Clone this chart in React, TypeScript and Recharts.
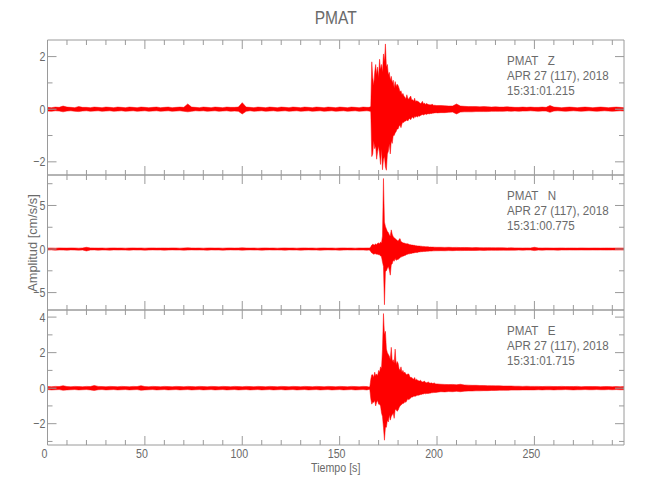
import React from 'react';
import { ComposedChart, Area, XAxis, YAxis } from 'recharts';

const W = 650;
const H = 500;
const PLOT_L = 47.5;
const PLOT_R = 624;
const X_DOMAIN: [number, number] = [0, 296];
const X_TICKS = [0, 10, 20, 30, 40, 50, 60, 70, 80, 90, 100, 110, 120, 130, 140, 150, 160, 170, 180, 190, 200, 210, 220, 230, 240, 250, 260, 270, 280, 290];
const X_MAJOR = [0, 50, 100, 150, 200, 250];

const TITLE = 'PMAT';
const X_TITLE = 'Tiempo [s]';
const Y_TITLE = 'Amplitud [cm/s/s]';
const STATION = 'PMAT';
const COMPONENTS = ['Z', 'N', 'E'];
const DATE_LINE = 'APR 27 (117), 2018';
const START_TIMES = ['15:31:01.215', '15:31:00.775', '15:31:01.715'];

// sampling segments (start time, step) of the hand-read envelopes
const SEG_A = { start: 0, step: 2 };
const SEG_B = { start: 165, step: 0.5 };
const SEG_C = { start: 202, step: 2 };

// ---------- Z component (upper / lower envelope) ----------
const Z_HI_A = [0.07, 0.06, 0.08, 0.07, 0.12, 0.08, 0.07, 0.06, 0.1, 0.07, 0.07, 0.06, 0.08, 0.07, 0.06, 0.08, 0.07, 0.06, 0.08, 0.07, 0.06, 0.08, 0.07, 0.06, 0.08, 0.07, 0.06, 0.07, 0.08, 0.06, 0.07, 0.08, 0.06, 0.07, 0.08, 0.07, 0.2, 0.08, 0.07, 0.06, 0.08, 0.07, 0.06, 0.08, 0.07, 0.06, 0.08, 0.07, 0.07, 0.08, 0.25, 0.08, 0.07, 0.06, 0.08, 0.07, 0.06, 0.08, 0.07, 0.06, 0.08, 0.07, 0.06, 0.08, 0.07, 0.06, 0.08, 0.07, 0.06, 0.08, 0.07, 0.06, 0.08, 0.07, 0.06, 0.08, 0.07, 0.06, 0.08, 0.07, 0.06, 0.08, 0.07];
const Z_LO_A = [-0.07, -0.08, -0.06, -0.07, -0.1, -0.07, -0.06, -0.08, -0.09, -0.07, -0.06, -0.08, -0.07, -0.06, -0.08, -0.07, -0.06, -0.08, -0.07, -0.06, -0.08, -0.07, -0.06, -0.08, -0.07, -0.06, -0.08, -0.07, -0.06, -0.08, -0.07, -0.06, -0.08, -0.07, -0.06, -0.08, -0.1, -0.08, -0.06, -0.07, -0.06, -0.08, -0.07, -0.06, -0.08, -0.07, -0.06, -0.08, -0.07, -0.08, -0.18, -0.08, -0.06, -0.08, -0.07, -0.06, -0.08, -0.07, -0.06, -0.08, -0.07, -0.06, -0.08, -0.07, -0.06, -0.08, -0.07, -0.06, -0.08, -0.07, -0.06, -0.08, -0.07, -0.06, -0.08, -0.07, -0.06, -0.08, -0.07, -0.06, -0.08, -0.07, -0.06];
const Z_HI_B = [0.07, 0.08, 0.1, 1.8, 1.2, 0.9, 1.4, 1.7, 1.3, 1.6, 1.2, 1.9, 1.5, 1.7, 1.4, 2.1, 1.8, 2.48, 1.6, 1.7, 1.3, 1.4, 1.1, 1.25, 1.0, 1.1, 0.8, 1.05, 0.85, 0.95, 0.9, 0.8, 0.65, 0.7, 0.55, 0.6, 0.5, 0.45, 0.4, 0.55, 0.42, 0.38, 0.45, 0.5, 0.35, 0.36, 0.3, 0.42, 0.28, 0.32, 0.3, 0.28, 0.25, 0.22, 0.24, 0.3, 0.2, 0.24, 0.18, 0.22, 0.2, 0.18, 0.17, 0.17, 0.16, 0.2, 0.15, 0.15, 0.15, 0.14, 0.14];
const Z_LO_B = [-0.07, -0.08, -0.1, -1.8, -1.7, -1.2, -1.5, -1.4, -1.9, -1.6, -1.4, -1.7, -2.1, -1.5, -2.3, -1.9, -1.8, -2.2, -2.32, -1.7, -1.6, -1.3, -1.7, -1.2, -1.3, -1.0, -1.0, -0.9, -0.85, -0.75, -0.75, -0.65, -0.6, -0.7, -0.55, -0.5, -0.5, -0.45, -0.45, -0.4, -0.45, -0.38, -0.35, -0.4, -0.32, -0.3, -0.35, -0.28, -0.3, -0.27, -0.3, -0.25, -0.27, -0.24, -0.22, -0.2, -0.22, -0.2, -0.18, -0.2, -0.18, -0.17, -0.18, -0.16, -0.17, -0.15, -0.15, -0.14, -0.14, -0.13, -0.14];
const Z_HI_C = [0.14, 0.13, 0.12, 0.12, 0.2, 0.12, 0.11, 0.1, 0.1, 0.1, 0.09, 0.1, 0.09, 0.08, 0.09, 0.08, 0.08, 0.09, 0.08, 0.07, 0.07, 0.08, 0.07, 0.08, 0.07, 0.07, 0.08, 0.07, 0.14, 0.08, 0.07, 0.06, 0.07, 0.08, 0.07, 0.06, 0.07, 0.08, 0.07, 0.06, 0.07, 0.08, 0.07, 0.06, 0.07, 0.08, 0.07, 0.06];
const Z_LO_C = [-0.13, -0.13, -0.12, -0.11, -0.18, -0.11, -0.1, -0.1, -0.1, -0.09, -0.09, -0.09, -0.09, -0.08, -0.08, -0.08, -0.08, -0.07, -0.08, -0.07, -0.08, -0.07, -0.07, -0.06, -0.07, -0.08, -0.07, -0.07, -0.12, -0.07, -0.06, -0.07, -0.08, -0.07, -0.06, -0.07, -0.08, -0.07, -0.06, -0.07, -0.08, -0.07, -0.06, -0.07, -0.08, -0.07, -0.06, -0.07];

// ---------- N component ----------
const N_HI_A = [0.11, 0.12, 0.1, 0.13, 0.12, 0.11, 0.13, 0.12, 0.1, 0.12, 0.2, 0.13, 0.12, 0.11, 0.12, 0.1, 0.12, 0.13, 0.11, 0.12, 0.1, 0.12, 0.13, 0.11, 0.12, 0.1, 0.12, 0.13, 0.11, 0.12, 0.12, 0.11, 0.13, 0.12, 0.1, 0.12, 0.14, 0.12, 0.11, 0.12, 0.1, 0.12, 0.13, 0.11, 0.12, 0.1, 0.12, 0.13, 0.11, 0.12, 0.14, 0.12, 0.11, 0.12, 0.1, 0.12, 0.13, 0.11, 0.12, 0.1, 0.12, 0.13, 0.11, 0.12, 0.1, 0.12, 0.13, 0.11, 0.12, 0.1, 0.12, 0.13, 0.11, 0.12, 0.1, 0.12, 0.13, 0.11, 0.12, 0.1, 0.12, 0.11, 0.12];
const N_LO_A = [-0.12, -0.1, -0.13, -0.11, -0.12, -0.13, -0.1, -0.12, -0.13, -0.11, -0.22, -0.12, -0.1, -0.13, -0.11, -0.12, -0.13, -0.1, -0.12, -0.11, -0.12, -0.13, -0.1, -0.12, -0.11, -0.13, -0.12, -0.1, -0.12, -0.11, -0.13, -0.12, -0.1, -0.12, -0.11, -0.13, -0.12, -0.1, -0.12, -0.11, -0.12, -0.13, -0.1, -0.12, -0.11, -0.13, -0.12, -0.1, -0.12, -0.11, -0.13, -0.12, -0.1, -0.12, -0.11, -0.13, -0.12, -0.1, -0.12, -0.11, -0.12, -0.13, -0.1, -0.12, -0.11, -0.13, -0.12, -0.1, -0.12, -0.11, -0.13, -0.12, -0.1, -0.12, -0.11, -0.13, -0.12, -0.1, -0.12, -0.11, -0.12, -0.11, -0.13];
const N_HI_B = [0.12, 0.12, 0.25, 0.45, 0.55, 0.5, 0.45, 0.6, 0.5, 0.65, 0.7, 0.6, 0.8, 0.7, 1.5, 8.1, 3.1, 2.6, 2.3, 2.0, 1.9, 1.6, 1.5, 2.2, 1.7, 1.4, 1.3, 1.2, 1.1, 1.0, 0.9, 1.1, 1.2, 0.85, 0.8, 0.7, 0.7, 0.65, 0.6, 0.6, 0.6, 0.55, 0.5, 0.5, 0.45, 0.45, 0.42, 0.42, 0.38, 0.38, 0.35, 0.35, 0.34, 0.33, 0.32, 0.3, 0.3, 0.28, 0.27, 0.27, 0.27, 0.25, 0.22, 0.24, 0.22, 0.22, 0.22, 0.21, 0.21, 0.2, 0.2];
const N_LO_B = [-0.12, -0.13, -0.3, -0.45, -0.5, -0.6, -0.55, -0.55, -0.6, -0.6, -0.65, -0.65, -0.8, -0.9, -1.5, -2.0, -6.4, -2.6, -2.5, -2.2, -2.0, -2.4, -3.0, -1.8, -1.7, -1.3, -1.4, -1.1, -1.3, -1.2, -1.2, -1.1, -1.0, -0.9, -0.9, -0.8, -0.8, -0.7, -0.7, -0.6, -0.6, -0.55, -0.55, -0.5, -0.5, -0.45, -0.45, -0.42, -0.4, -0.4, -0.4, -0.35, -0.33, -0.32, -0.3, -0.3, -0.28, -0.28, -0.28, -0.26, -0.25, -0.25, -0.24, -0.23, -0.24, -0.22, -0.21, -0.21, -0.2, -0.2, -0.2];
const N_HI_C = [0.2, 0.19, 0.2, 0.18, 0.19, 0.17, 0.18, 0.17, 0.16, 0.17, 0.16, 0.15, 0.16, 0.15, 0.14, 0.15, 0.14, 0.13, 0.14, 0.13, 0.13, 0.12, 0.13, 0.12, 0.2, 0.13, 0.12, 0.13, 0.12, 0.11, 0.12, 0.13, 0.11, 0.12, 0.12, 0.11, 0.13, 0.12, 0.11, 0.12, 0.12, 0.11, 0.12, 0.12, 0.11, 0.12, 0.12, 0.11];
const N_LO_C = [-0.19, -0.2, -0.18, -0.19, -0.17, -0.18, -0.17, -0.16, -0.17, -0.16, -0.15, -0.16, -0.15, -0.14, -0.15, -0.14, -0.13, -0.14, -0.13, -0.13, -0.12, -0.13, -0.12, -0.12, -0.18, -0.12, -0.13, -0.11, -0.12, -0.12, -0.13, -0.11, -0.12, -0.11, -0.12, -0.12, -0.11, -0.12, -0.12, -0.11, -0.12, -0.11, -0.12, -0.12, -0.11, -0.12, -0.11, -0.12];

// ---------- E component ----------
const E_HI_A = [0.09, 0.08, 0.1, 0.09, 0.14, 0.09, 0.08, 0.1, 0.09, 0.08, 0.1, 0.09, 0.15, 0.1, 0.09, 0.08, 0.1, 0.09, 0.08, 0.1, 0.09, 0.08, 0.1, 0.09, 0.14, 0.09, 0.08, 0.1, 0.09, 0.08, 0.1, 0.09, 0.08, 0.1, 0.09, 0.08, 0.1, 0.09, 0.08, 0.1, 0.09, 0.08, 0.1, 0.09, 0.08, 0.1, 0.09, 0.08, 0.1, 0.09, 0.08, 0.1, 0.09, 0.08, 0.1, 0.09, 0.08, 0.1, 0.09, 0.08, 0.1, 0.09, 0.08, 0.1, 0.09, 0.08, 0.1, 0.09, 0.08, 0.1, 0.09, 0.08, 0.1, 0.09, 0.08, 0.1, 0.09, 0.08, 0.1, 0.09, 0.08, 0.1, 0.09];
const E_LO_A = [-0.08, -0.1, -0.09, -0.08, -0.12, -0.1, -0.09, -0.08, -0.1, -0.09, -0.08, -0.1, -0.13, -0.09, -0.08, -0.1, -0.09, -0.08, -0.1, -0.09, -0.08, -0.1, -0.09, -0.08, -0.12, -0.1, -0.09, -0.08, -0.1, -0.09, -0.08, -0.1, -0.09, -0.08, -0.1, -0.09, -0.08, -0.1, -0.09, -0.08, -0.1, -0.09, -0.08, -0.1, -0.09, -0.08, -0.1, -0.09, -0.08, -0.1, -0.09, -0.08, -0.1, -0.09, -0.08, -0.1, -0.09, -0.08, -0.1, -0.09, -0.08, -0.1, -0.09, -0.08, -0.1, -0.09, -0.08, -0.1, -0.09, -0.08, -0.1, -0.09, -0.08, -0.1, -0.09, -0.08, -0.1, -0.09, -0.08, -0.1, -0.09, -0.08, -0.1];
const E_HI_B = [0.07, 0.08, 0.5, 0.75, 0.75, 0.6, 0.9, 0.7, 0.8, 0.7, 1.0, 0.9, 1.2, 1.1, 2.2, 4.2, 3.0, 3.2, 2.2, 2.0, 1.9, 1.8, 1.6, 2.3, 1.5, 1.6, 1.4, 2.2, 1.3, 1.5, 1.4, 1.1, 1.0, 1.2, 0.9, 1.0, 0.85, 0.9, 0.8, 0.75, 0.8, 0.8, 0.65, 0.6, 0.6, 0.55, 0.5, 0.6, 0.45, 0.5, 0.45, 0.42, 0.4, 0.45, 0.38, 0.35, 0.36, 0.4, 0.33, 0.3, 0.32, 0.35, 0.3, 0.28, 0.3, 0.27, 0.26, 0.3, 0.25, 0.24, 0.24];
const E_LO_B = [-0.07, -0.08, -0.6, -0.9, -0.8, -0.8, -0.7, -1.0, -0.8, -0.7, -0.9, -0.9, -1.0, -1.4, -1.6, -2.2, -2.93, -2.2, -2.2, -1.8, -1.9, -1.5, -1.8, -1.6, -1.5, -1.4, -1.7, -1.2, -1.2, -1.3, -1.25, -1.1, -1.0, -0.95, -0.9, -0.85, -0.85, -0.75, -0.8, -0.7, -0.6, -0.65, -0.6, -0.55, -0.5, -0.5, -0.45, -0.45, -0.45, -0.42, -0.4, -0.4, -0.38, -0.36, -0.36, -0.33, -0.33, -0.3, -0.32, -0.3, -0.3, -0.3, -0.28, -0.28, -0.26, -0.26, -0.25, -0.25, -0.24, -0.24, -0.23];
const E_HI_C = [0.22, 0.21, 0.2, 0.21, 0.19, 0.22, 0.18, 0.17, 0.16, 0.16, 0.15, 0.15, 0.14, 0.14, 0.13, 0.13, 0.12, 0.12, 0.12, 0.11, 0.11, 0.1, 0.11, 0.1, 0.1, 0.1, 0.09, 0.1, 0.1, 0.09, 0.09, 0.1, 0.09, 0.09, 0.09, 0.1, 0.08, 0.09, 0.09, 0.09, 0.09, 0.08, 0.09, 0.09, 0.08, 0.09, 0.08, 0.09];
const E_LO_C = [-0.2, -0.21, -0.19, -0.2, -0.18, -0.2, -0.17, -0.16, -0.16, -0.15, -0.15, -0.14, -0.14, -0.13, -0.13, -0.12, -0.12, -0.12, -0.11, -0.11, -0.11, -0.1, -0.1, -0.1, -0.1, -0.09, -0.1, -0.09, -0.09, -0.1, -0.09, -0.09, -0.08, -0.09, -0.1, -0.09, -0.09, -0.08, -0.09, -0.09, -0.08, -0.09, -0.09, -0.08, -0.09, -0.08, -0.09, -0.09];

function buildTrace(hi: number[][], lo: number[][]) {
  const segs = [SEG_A, SEG_B, SEG_C];
  const out: { t: number; r: [number, number] }[] = [];
  segs.forEach((s, k) => {
    hi[k].forEach((h, i) => out.push({ t: s.start + i * s.step, r: [lo[k][i], h] }));
  });
  return out;
}

const PANELS = [
  { top: 40, bottom: 175, domain: [-2.5, 2.63], ticks: [-2, -1, 0, 1, 2], major: [-2, 0, 2], data: buildTrace([Z_HI_A, Z_HI_B, Z_HI_C], [Z_LO_A, Z_LO_B, Z_LO_C]) },
  { top: 175, bottom: 310, domain: [-7.0, 8.5], ticks: [-5, -2.5, 0, 2.5, 5, 7.5], major: [-5, 0, 5], data: buildTrace([N_HI_A, N_HI_B, N_HI_C], [N_LO_A, N_LO_B, N_LO_C]) },
  { top: 310, bottom: 445, domain: [-3.2, 4.4], ticks: [-3, -2, -1, 0, 1, 2, 3, 4], major: [-2, 0, 2, 4], data: buildTrace([E_HI_A, E_HI_B, E_HI_C], [E_LO_A, E_LO_B, E_LO_C]) },
];

const AXIS = '#9a9a9a';
const TEXT = '#6a6a6a';
const FONT = "'Liberation Sans', Arial, sans-serif";
const SX = 0.82;
const MAJ = 9;
const MIN = 5;

const fmt = (v: number) => (v < 0 ? '\u2212' + Math.abs(v) : String(v));

function NText(props: any) {
  const { x, y, size, anchor, rotate, sx, children } = props;
  const tr = `translate(${x},${y})` + (rotate ? ` rotate(${rotate})` : '') + ` scale(${sx ?? SX},1)`;
  return (
    <text transform={tr} textAnchor={anchor || 'start'} fontSize={size} fill={TEXT} fontFamily={FONT} style={{ whiteSpace: 'pre' }}>
      {children}
    </text>
  );
}

function XTick(props: any) {
  const { x, y, payload, side, showLabel } = props;
  const major = X_MAJOR.includes(payload.value);
  const len = major ? MAJ : MIN;
  const dir = side === 'top' ? 1 : -1;
  return (
    <g>
      <line x1={x} y1={y} x2={x} y2={y + dir * len} stroke={AXIS} strokeWidth={1} />
      {showLabel && major ? (
        <NText x={x - 3} y={y + 13} size={13} anchor="middle">
          {String(payload.value)}
        </NText>
      ) : null}
    </g>
  );
}

function YTick(props: any) {
  const { x, y, payload, side, majors } = props;
  const major = majors.includes(payload.value);
  const len = major ? MAJ : MIN;
  const dir = side === 'left' ? 1 : -1;
  return (
    <g>
      <line x1={x} y1={y} x2={x + dir * len} y2={y} stroke={AXIS} strokeWidth={1} />
      {side === 'left' && major ? (
        <NText x={x - 2} y={y + 4.5} size={13} anchor="end">
          {fmt(payload.value)}
        </NText>
      ) : null}
    </g>
  );
}

export default function App() {
  return (
    <div style={{ position: 'absolute', left: 0, top: 0, width: W, height: H, background: '#fff' }}>
      {PANELS.map((p, idx) => (
        <div key={idx} style={{ position: 'absolute', left: 0, top: 0 }}>
          <ComposedChart
            width={W}
            height={H}
            data={p.data}
            margin={{ top: p.top - 1, bottom: H - p.bottom - 1, left: PLOT_L - 1, right: W - PLOT_R - 1 }}
          >
            <XAxis
              xAxisId="b"
              dataKey="t"
              type="number"
              domain={X_DOMAIN}
              allowDataOverflow
              ticks={X_TICKS}
              interval={0}
              height={1}
              tickSize={0}
              tickMargin={0}
              tickLine={false}
              axisLine={{ stroke: AXIS }}
              tick={(tp: any) => <XTick {...tp} side="bottom" showLabel={idx === 2} />}
            />
            <XAxis
              xAxisId="t"
              orientation="top"
              dataKey="t"
              type="number"
              domain={X_DOMAIN}
              allowDataOverflow
              ticks={X_TICKS}
              interval={0}
              height={1}
              tickSize={0}
              tickMargin={0}
              tickLine={false}
              axisLine={{ stroke: AXIS }}
              tick={(tp: any) => <XTick {...tp} side="top" showLabel={false} />}
            />
            <YAxis
              yAxisId="l"
              type="number"
              domain={p.domain}
              allowDataOverflow
              ticks={p.ticks}
              interval={0}
              width={1}
              tickSize={0}
              tickMargin={0}
              tickLine={false}
              axisLine={{ stroke: AXIS }}
              tick={(tp: any) => <YTick {...tp} side="left" majors={p.major} />}
            />
            <YAxis
              yAxisId="r"
              orientation="right"
              type="number"
              domain={p.domain}
              allowDataOverflow
              ticks={p.ticks}
              interval={0}
              width={1}
              tickSize={0}
              tickMargin={0}
              tickLine={false}
              axisLine={{ stroke: AXIS }}
              tick={(tp: any) => <YTick {...tp} side="right" majors={p.major} />}
            />
            <Area
              xAxisId="b"
              yAxisId="l"
              type="linear"
              dataKey="r"
              stroke="#ff0000"
              strokeWidth={0.5}
              fill="#ff0000"
              fillOpacity={1}
              dot={false}
              activeDot={false}
              isAnimationActive={false}
            />
          </ComposedChart>
        </div>
      ))}
      <svg width={W} height={H} style={{ position: 'absolute', left: 0, top: 0, pointerEvents: 'none' }}>
        <NText x={(PLOT_L + PLOT_R) / 2} y={24} size={19} anchor="middle">
          {TITLE}
        </NText>
        <NText x={(PLOT_L + PLOT_R) / 2} y={472} size={13} anchor="middle">
          {X_TITLE}
        </NText>
        <NText x={37} y={243} size={13.5} anchor="middle" rotate={-90} sx={0.95}>
          {Y_TITLE}
        </NText>
        {PANELS.map((p, idx) => (
          <g key={idx}>
            <NText x={507} y={p.top + 25} size={13.5} sx={0.86}>
              {`${STATION}   ${COMPONENTS[idx]}`}
            </NText>
            <NText x={507} y={p.top + 40} size={13.5} sx={0.86}>
              {DATE_LINE}
            </NText>
            <NText x={507} y={p.top + 55} size={13.5} sx={0.86}>
              {START_TIMES[idx]}
            </NText>
          </g>
        ))}
      </svg>
    </div>
  );
}
